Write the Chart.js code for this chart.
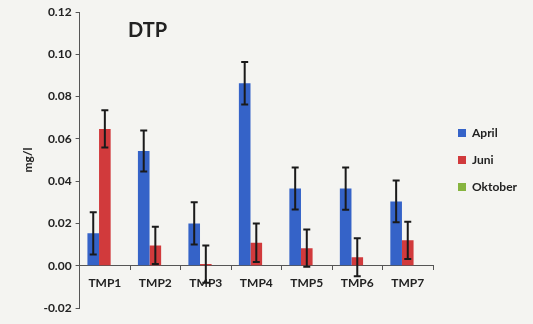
<!DOCTYPE html>
<html>
<head>
<meta charset="utf-8">
<script src="https://cdn.jsdelivr.net/npm/chart.js@4"></script>
<style>
  html, body { margin: 0; padding: 0; background: #f4f4f1; }
</style>
</head>
<body>
<canvas id="chartDtp" width="533" height="324"></canvas>
<script>
let labels = ['TMP1', 'TMP2', 'TMP3', 'TMP4', 'TMP5', 'TMP6', 'TMP7'];
let april = [0.0153, 0.0543, 0.0200, 0.0863, 0.0365, 0.0365, 0.0304];
let juni = [0.0647, 0.0096, 0.0008, 0.0109, 0.0083, 0.0040, 0.0120];
let oktober = [null, null, null, null, null, null, null];
// error bar (+/-) for each bar
let aprilErr = [0.0100, 0.0097, 0.0100, 0.0100, 0.0099, 0.0100, 0.0099];
let juniErr = [0.0088, 0.0088, 0.0088, 0.0091, 0.0088, 0.0090, 0.0088];
let oktoberErr = [null, null, null, null, null, null, null];
let yTicks = [-0.02, 0.00, 0.02, 0.04, 0.06, 0.08, 0.10, 0.12];

const fontFam = 'Lato, "Open Sans", sans-serif';
const ink = '#222';

// error bars drawn over the bars using the chart's y scale
const errorBars = {
    id: 'errorBars',
    afterDatasetsDraw(chart) {
        const ctx = chart.ctx;
        const y = chart.scales.y;
        chart.data.datasets.forEach((ds, i) => {
            const meta = chart.getDatasetMeta(i);
            if (!ds.errors || meta.hidden) return;
            meta.data.forEach((bar, j) => {
                const v = ds.data[j], e = ds.errors[j];
                if (v == null || e == null) return;
                const top = y.getPixelForValue(v + e);
                const bot = y.getPixelForValue(v - e);
                ctx.save();
                ctx.strokeStyle = '#1a1a1a';
                ctx.lineWidth = 2;
                ctx.beginPath();
                ctx.moveTo(bar.x, top); ctx.lineTo(bar.x, bot);
                ctx.moveTo(bar.x - 3.5, top); ctx.lineTo(bar.x + 3.5, top);
                ctx.moveTo(bar.x - 3.5, bot); ctx.lineTo(bar.x + 3.5, bot);
                ctx.stroke();
                ctx.restore();
            });
        });
    }
};

// "DTP" label inside the plot
const innerTitle = {
    id: 'innerTitle',
    afterDraw(chart) {
        const ctx = chart.ctx;
        ctx.save();
        ctx.font = 'bold 20px ' + fontFam;
        ctx.fillStyle = ink;
        ctx.textBaseline = 'middle';
        ctx.fillText('DTP', 128, 31);
        ctx.restore();
    }
};

// fixed legend width so the plot ends where the reference does,
// then nudge the legend items a bit to the right
const legendWidth = {
    id: 'legendWidth',
    beforeInit(chart) {
        const fit = chart.legend.fit;
        chart.legend.fit = function () {
            fit.bind(chart.legend)();
            this.width = 100;
        };
    },
    beforeDraw(chart) {
        chart.legend.left = chart.chartArea.right + 10;
    }
};

let chart = new Chart(document.getElementById('chartDtp'), {
    type: 'bar',
    data: {
        labels: labels,
        datasets: [
            { label: 'April', data: april, errors: aprilErr, backgroundColor: '#3563c8' },
            { label: 'Juni', data: juni, errors: juniErr, backgroundColor: '#d13a3c' },
            { label: 'Oktober', data: oktober, errors: oktoberErr, backgroundColor: '#86b43f' }
        ]
    },
    options: {
        responsive: false,
        animation: false,
        devicePixelRatio: 1,
        layout: { padding: { top: 12, left: 17, right: 0, bottom: 16 } },
        datasets: { bar: { categoryPercentage: 0.69, barPercentage: 1 } },
        plugins: {
            legend: {
                position: 'right',
                align: 'center',
                labels: {
                    boxWidth: 8, boxHeight: 8, padding: 15,
                    color: ink,
                    font: { family: fontFam, size: 12, weight: 'bold' }
                }
            },
            tooltip: { enabled: false }
        },
        scales: {
            x: {
                position: { y: 0 },
                grid: { offset: true, drawOnChartArea: false, tickLength: 4, color: '#555' },
                border: { color: '#555' },
                ticks: { color: ink, padding: 6, maxRotation: 0, font: { family: fontFam, size: 12, weight: 'bold' } }
            },
            y: {
                min: -0.02, max: 0.12,
                afterBuildTicks: (axis) => { axis.ticks = yTicks.map(v => ({ value: v })); },
                grid: { drawOnChartArea: false, tickLength: 4, color: '#555' },
                border: { color: '#555' },
                ticks: {
                    color: ink, padding: 4,
                    font: { family: fontFam, size: 12, weight: 'bold' },
                    callback: (v) => v.toFixed(2)
                },
                title: {
                    display: true, text: 'mg/l', color: ink,
                    font: { family: fontFam, size: 12, weight: 'bold' }
                }
            }
        }
    },
    plugins: [errorBars, innerTitle, legendWidth]
});
</script>
</body>
</html>
